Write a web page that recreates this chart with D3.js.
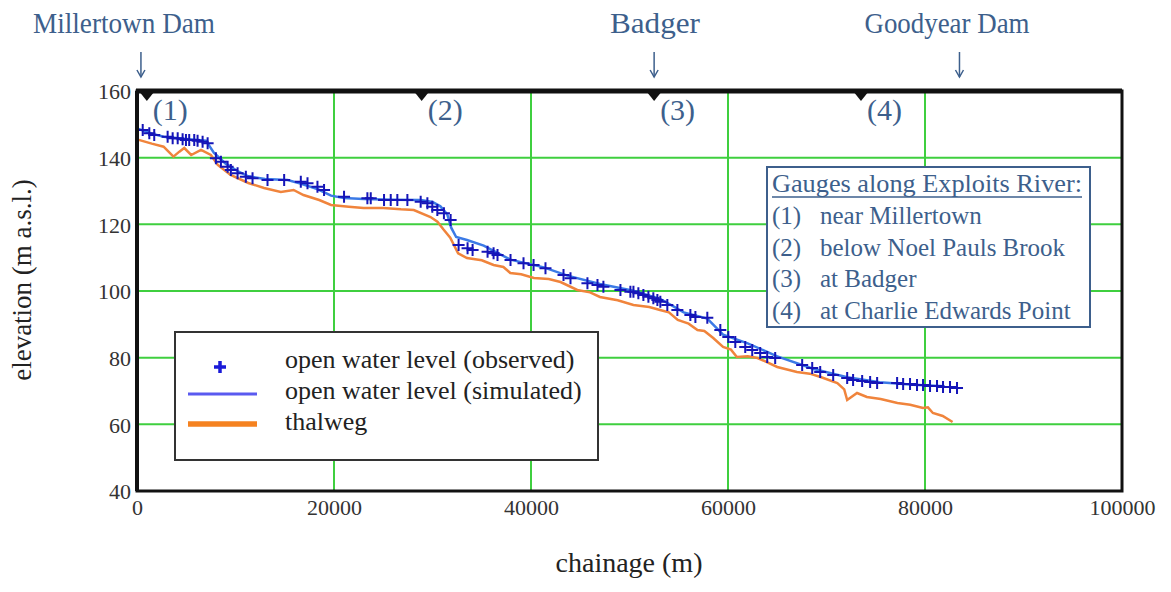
<!DOCTYPE html>
<html>
<head>
<meta charset="utf-8">
<script src="https://cdn.jsdelivr.net/npm/d3@7"></script>
<style>
  body { margin: 0; background: #fff; }
  svg text { font-family: "Liberation Serif", "DejaVu Serif", serif; }
</style>
</head>
<body>
<svg id="chart" width="1171" height="592"></svg>
<script>
// axis ticks
const xTicks = [0, 20000, 40000, 60000, 80000, 100000];
const yTicks = [40, 60, 80, 100, 120, 140, 160];

// observed open water level [chainage, elevation]
const observed = [
  [580,148.3],[1250,147.3],[1750,146.8],[3110,146.3],[3620,145.8],[4130,145.8],[4630,145.5],[4970,145.3],
  [5300,145.3],[5810,145.3],[6150,145.1],[6660,144.8],[7170,144.3],[8010,139.8],[8520,138.8],[9200,137.3],
  [9530,136.3],[10210,135.3],[11050,134.3],[11730,133.8],[13250,133.3],[14940,133.3],[16630,132.8],[17310,132.3],
  [18320,131.3],[18990,130.3],[21020,128.3],[23390,127.8],[23730,127.8],[25080,127.3],[25760,127.3],[26430,127.3],
  [27450,127.3],[28800,126.8],[29480,126.3],[29980,125.3],[30490,124.3],[31160,123.3],[31840,121.3],
  [32650,113.8],[33560,112.8],[34070,112.3],[35590,111.8],[36200,111.3],[36600,110.8],[37920,109.3],[39240,108.3],
  [40260,107.8],[41470,106.8],[43300,104.8],[44010,103.8],[45730,102.3],[46750,101.8],[47350,101.3],[49080,100.3],
  [50090,99.8],[50400,99.8],[50900,99.3],[51410,98.8],[51920,98.3],[52420,97.8],[52830,97.3],[53130,96.8],
  [53840,95.8],[54860,94.3],[56180,92.8],[56690,92.2],[57900,92.0],[59220,88.3],[60030,86.2],[60740,84.7],
  [61750,83.2],[62460,82.3],[63270,81.4],[63980,80.2],[64790,79.9],[67530,77.8],[68550,76.9],[69360,75.7],
  [70680,74.8],[72100,73.9],[72700,73.3],[73620,73.0],[74430,72.7],[75140,72.4],[77170,72.4],[77780,72.1],
  [78480,72.1],[79190,71.8],[79800,71.8],[80510,71.5],[81220,71.5],[81830,71.2],[82540,71.2],[83250,70.9]
];

// simulated open water level
const simulated = [
  [0,148.8],[1500,147.2],[2700,146.3],[5000,145.6],[7000,145.1],[7800,141.5],[9000,138.2],[10200,136],
  [11300,134.4],[13000,133.6],[15300,133.3],[16600,132.2],[18300,130.6],[19700,128.6],[21000,127.9],[23000,127.6],
  [26000,127.4],[28800,127.3],[30000,126.7],[30800,125.4],[31500,123],[31900,119],[32400,116.2],[33500,115.3],
  [35200,113.6],[37900,109.4],[41300,107.1],[43700,104.6],[47000,102.1],[50400,100.1],[53100,97.6],[54500,95.3],
  [55500,93.6],[57900,91.7],[58700,89.3],[59500,86.9],[62000,84.3],[65000,80.4],[68700,76.6],[72100,74.1],
  [75400,72.6],[78800,71.9],[82000,71.4]
];

// thalweg
const thalweg = [
  [0,145.5],[1500,144.2],[2700,143.3],[3700,140.3],[4300,141.8],[4800,142.9],[5500,140.8],[6500,142.3],
  [7500,140.8],[8200,137.8],[9500,134.8],[11300,132.4],[12900,130.9],[14600,129.7],[15900,130.3],[16900,128.8],
  [18500,127.3],[19700,125.8],[21500,125.3],[23000,124.9],[25000,124.9],[26800,124.5],[28100,124.3],[29800,122.2],
  [30500,120.8],[31100,118.5],[31800,116],[32600,111.3],[33500,109.9],[35000,109.2],[36200,107.8],[37200,107.2],
  [37900,105.4],[39000,105.0],[40300,103.9],[41800,103.6],[43000,102.7],[44700,100.3],[46000,99.6],[47000,98.2],
  [48800,97.2],[50400,95.8],[52000,95.2],[53100,94.3],[54000,93.6],[54900,91.3],[56000,90.2],[56900,88.3],
  [57600,88.0],[58500,85.9],[59500,83.2],[60300,82.4],[60900,80.2],[62000,80.4],[63000,79.9],[64000,78.6],
  [65000,77.2],[67000,75.7],[68300,75.2],[69400,74.2],[71100,72.4],[71800,70.5],[72100,67.3],[73100,69.4],
  [74100,68.2],[75500,67.6],[77200,66.4],[78500,65.9],[79800,64.9],[80300,65.1],[80800,63.4],[81800,62.5],
  [82800,60.7]
];

// gauges on top border
const gaugeChainage = [1000, 28900, 52500, 73500];
const gaugeNames = ["near Millertown", "below Noel Pauls Brook", "at Badger", "at Charlie Edwards Point"];

// places above the chart
const placeNames = ["Millertown Dam", "Badger", "Goodyear Dam"];
const placeChainage = [400, 52500, 83500];

const labelBlue = "#3d5f8c";
const gridGreen = "#3fcf3f";
const simBlue = "#3b7ae6";
const obsBlue = "#1515b8";
const orange = "#f0843c";

// label boxes: centre x and width
const placeText = {"Millertown Dam": [124, 182], "Badger": [655, 90], "Goodyear Dam": [947, 165]};

const svg = d3.select("#chart");
const x = d3.scaleLinear().domain([0, 100000]).range([137, 1122]);
const y = d3.scaleLinear().domain([40, 160]).range([491, 91]);

// grid
svg.append("g").selectAll("line").data(xTicks.slice(1, -1)).join("line")
  .attr("x1", d => x(d)).attr("x2", d => x(d))
  .attr("y1", y(160)).attr("y2", y(40))
  .attr("stroke", gridGreen).attr("stroke-width", 2);
svg.append("g").selectAll("line").data(yTicks.slice(1, -1)).join("line")
  .attr("x1", x(0)).attr("x2", x(100000))
  .attr("y1", d => y(d)).attr("y2", d => y(d))
  .attr("stroke", gridGreen).attr("stroke-width", 2);

// axes, labels only
const xAxis = svg.append("g").attr("transform", `translate(0,${y(40)})`)
  .call(d3.axisBottom(x).tickValues(xTicks).tickFormat(d3.format("d")).tickSize(0).tickPadding(5));
const yAxis = svg.append("g").attr("transform", `translate(${x(0)},0)`)
  .call(d3.axisLeft(y).tickValues(yTicks).tickSize(0).tickPadding(6));
[xAxis, yAxis].forEach(g => {
  g.select(".domain").remove();
  g.selectAll("text").attr("font-size", 22).attr("fill", "#333")
    .attr("font-family", "Liberation Serif, serif");
});
xAxis.selectAll("text").attr("dy", "0.85em");
yAxis.selectAll("text").attr("dy", "0.35em");

// lines
const line = d3.line().x(d => x(d[0])).y(d => y(d[1]));
svg.append("path").datum(thalweg).attr("d", line)
  .attr("fill", "none").attr("stroke", orange).attr("stroke-width", 2.5);
svg.append("path").datum(simulated).attr("d", line)
  .attr("fill", "none").attr("stroke", simBlue).attr("stroke-width", 2.5);

// observed markers
svg.append("g").selectAll("path").data(observed).join("path")
  .attr("d", d => `M${x(d[0]) - 6},${y(d[1])}h12M${x(d[0])},${y(d[1]) - 6}v12`)
  .attr("stroke", obsBlue).attr("stroke-width", 2);

// frame
svg.append("rect").attr("x", x(0)).attr("y", y(160))
  .attr("width", x(100000) - x(0)).attr("height", y(40) - y(160))
  .attr("fill", "none").attr("stroke", "#111").attr("stroke-width", 3);
svg.append("line").attr("x1", x(0) - 1).attr("x2", x(100000)).attr("y1", y(160)).attr("y2", y(160))
  .attr("stroke", "#111").attr("stroke-width", 5);
svg.append("line").attr("x1", x(0)).attr("x2", x(0)).attr("y1", y(160)).attr("y2", y(40))
  .attr("stroke", "#111").attr("stroke-width", 4);

// gauge triangles and labels
svg.append("g").selectAll("path").data(gaugeChainage).join("path")
  .attr("d", d => `M${x(d) - 8},${y(160)}L${x(d) + 8},${y(160)}L${x(d)},${y(160) + 10}Z`)
  .attr("fill", "#111");
svg.append("g").selectAll("text").data(gaugeChainage).join("text")
  .attr("x", d => x(d) + 6).attr("y", y(160) + 29)
  .attr("font-size", 30).attr("fill", labelBlue).text((d, i) => `(${i + 1})`);

// places and arrows
const pl = svg.append("g").selectAll("g").data(placeNames).join("g");
pl.append("text").attr("x", d => placeText[d][0]).attr("y", 33).attr("text-anchor", "middle")
  .attr("font-size", 30).attr("fill", labelBlue)
  .attr("textLength", d => placeText[d][1]).attr("lengthAdjust", "spacingAndGlyphs")
  .text(d => d);
pl.append("line").attr("x1", (d, i) => x(placeChainage[i])).attr("x2", (d, i) => x(placeChainage[i]))
  .attr("y1", 52).attr("y2", 77)
  .attr("stroke", labelBlue).attr("stroke-width", 1.5);
pl.append("path").attr("d", (d, i) => {
    const px = x(placeChainage[i]);
    return `M${px - 4},70L${px},77L${px + 4},70`;
  })
  .attr("fill", "none").attr("stroke", labelBlue).attr("stroke-width", 1.5);

// axis titles
svg.append("text").attr("x", 629).attr("y", 572).attr("text-anchor", "middle")
  .attr("font-size", 28).attr("fill", "#222").text("chainage (m)");
svg.append("text").attr("transform", "translate(31,280) rotate(-90)").attr("text-anchor", "middle")
  .attr("font-size", 27).attr("fill", "#222").text("elevation (m a.s.l.)");

// legend
const lg = svg.append("g");
lg.append("rect").attr("x", 175).attr("y", 332).attr("width", 423).attr("height", 128)
  .attr("fill", "#fff").attr("stroke", "#333").attr("stroke-width", 2);
lg.append("path").attr("d", "M214,367h12M220,361v12").attr("stroke", "#1a1ad8").attr("stroke-width", 3.5);
lg.append("line").attr("x1", 188).attr("x2", 257).attr("y1", 394).attr("y2", 394)
  .attr("stroke", "#5a5af0").attr("stroke-width", 3);
lg.append("line").attr("x1", 188).attr("x2", 257).attr("y1", 424).attr("y2", 424)
  .attr("stroke", "#f58220").attr("stroke-width", 5.5);
lg.selectAll("text").data(["open water level (observed)", "open water level (simulated)", "thalweg"])
  .join("text").attr("x", 285).attr("y", (d, i) => 368 + i * 31)
  .attr("font-size", 26).attr("fill", "#222").text(d => d);

// gauge box
const gb = svg.append("g");
gb.append("rect").attr("x", 767).attr("y", 167).attr("width", 323).attr("height", 160)
  .attr("fill", "#fff").attr("stroke", labelBlue).attr("stroke-width", 2);
gb.append("text").attr("x", 772).attr("y", 192).attr("font-size", 25).attr("fill", labelBlue)
  .attr("textLength", 310).attr("lengthAdjust", "spacingAndGlyphs")
  .text("Gauges along Exploits River:");
gb.append("line").attr("x1", 772).attr("x2", 1082).attr("y1", 197).attr("y2", 197)
  .attr("stroke", labelBlue).attr("stroke-width", 1.3);
gb.selectAll("text.n").data(gaugeNames).join("text").attr("class", "n")
  .attr("x", 772).attr("y", (d, i) => 224 + i * 31.5)
  .attr("font-size", 25).attr("fill", labelBlue).text((d, i) => `(${i + 1})`);
gb.selectAll("text.g").data(gaugeNames).join("text").attr("class", "g")
  .attr("x", 820).attr("y", (d, i) => 224 + i * 31.5)
  .attr("font-size", 25).attr("fill", labelBlue).text(d => d);
</script>
</body>
</html>
